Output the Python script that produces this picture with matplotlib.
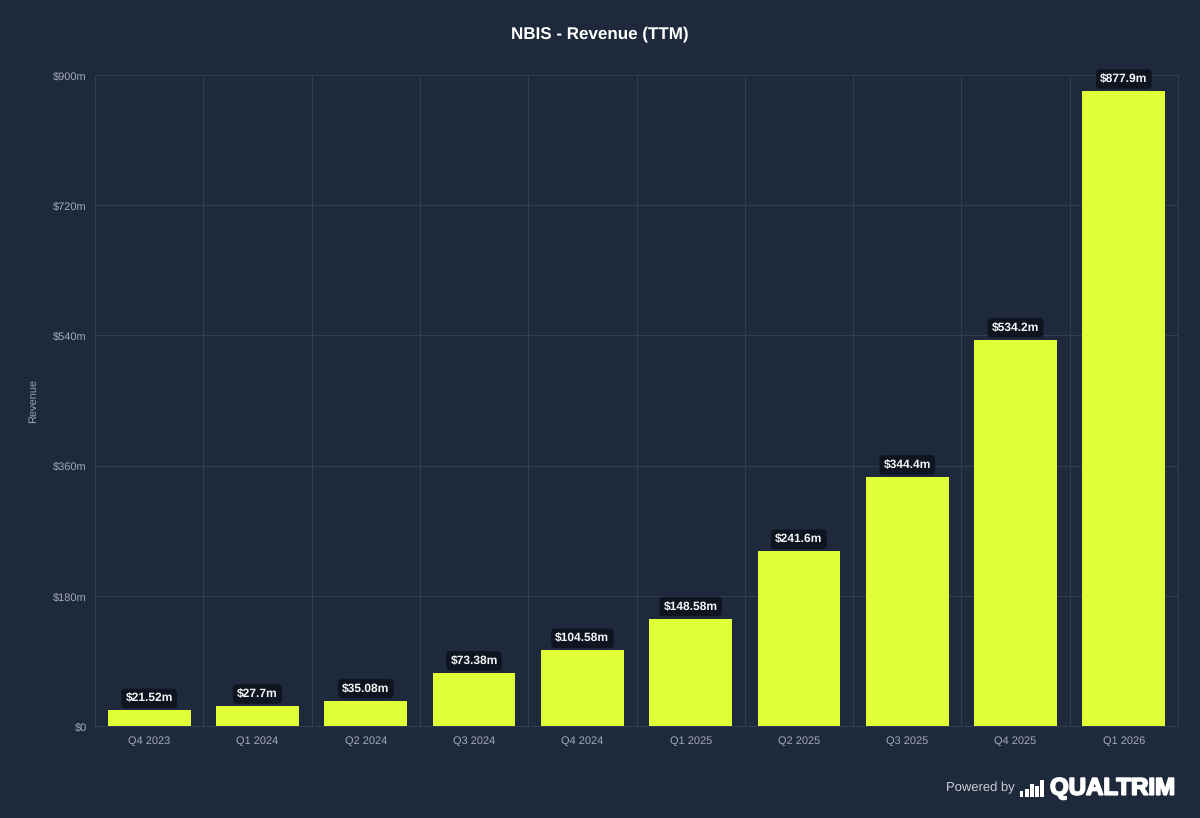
import matplotlib
matplotlib.use('Agg')
import matplotlib.pyplot as plt
import matplotlib.patheffects as pe
from matplotlib.patches import Rectangle

plt.rcParams['font.family'] = ['Liberation Sans', 'DejaVu Sans']
plt.rcParams['text.hinting'] = 'no_hinting'
plt.rcParams['text.hinting_factor'] = 1

quarters = ['Q4 2023', 'Q1 2024', 'Q2 2024', 'Q3 2024', 'Q4 2024',
            'Q1 2025', 'Q2 2025', 'Q3 2025', 'Q4 2025', 'Q1 2026']
revenue = [21.52, 27.7, 35.08, 73.38, 104.58, 148.58, 241.6, 344.4, 534.2, 877.9]
bar_labels = ['$21.52m', '$27.7m', '$35.08m', '$73.38m', '$104.58m',
              '$148.58m', '$241.6m', '$344.4m', '$534.2m', '$877.9m']
y_ticks = [0, 180, 360, 540, 720, 900]
y_tick_labels = ['$0', '$180m', '$360m', '$540m', '$720m', '$900m']

BG = '#1e2a3c'
GRID = '#333f51'
BAR = '#e0ff37'
W, H = 1200, 818

fig = plt.figure(figsize=(W / 100, H / 100), dpi=100, facecolor=BG)
ax = fig.add_axes([95 / W, 1 - 726 / H, (1178 - 95) / W, (726 - 75) / H], facecolor=BG)

x = range(len(quarters))
ax.bar(x, revenue, width=0.765, color=BAR, zorder=3)
ax.set_xlim(-0.5, len(quarters) - 0.5)
ax.set_ylim(0, 900)

ax.set_yticks(y_ticks)
ax.set_yticklabels(y_tick_labels, va='center_baseline')
ax.set_xticks(list(x))
ax.set_xticklabels(quarters)
ax.set_xticks([i - 0.5 for i in range(len(quarters) + 1)], minor=True)
ax.tick_params(axis='both', which='major', length=0, labelsize=8, labelcolor='#a3abb8')
ax.tick_params(axis='x', which='major', pad=7.5)
ax.tick_params(axis='y', which='major', pad=6)
ax.tick_params(axis='x', which='minor', length=0)
ax.grid(True, axis='y', color=GRID, lw=0.7, zorder=0)
ax.grid(True, axis='x', which='minor', color=GRID, lw=0.7, zorder=0)
for side in ax.spines.values():
    side.set_color(GRID)
    side.set_linewidth(0.7)

for i, (val, lab) in enumerate(zip(revenue, bar_labels)):
    ax.annotate(lab, (i, val), xytext=(0, 4.6), textcoords='offset points',
                ha='center', va='bottom', fontsize=8.4, fontweight='bold',
                color='#f4f5f6', zorder=5, clip_on=False,
                bbox=dict(boxstyle='round,pad=0.36,rounding_size=0.35', fc='#0e1420', ec='none'))

fig.text(600 / W, 1 - 34.5 / H, 'NBIS - Revenue (TTM)', color='white', fontsize=12.6,
         fontweight='bold', ha='center', va='center')
fig.text(33 / W, 1 - 401 / H, 'Revenue', color='#99a2b0', fontsize=8,
         rotation=90, ha='center', va='center')

# footer logo
fig.text(946 / W, 1 - 788 / H, 'Powered by', color='#c9cdd4', fontsize=9.0, ha='left', va='center')
for bx, top in [(1019.5, 791), (1024.8, 789.3), (1030, 784.3), (1035.2, 785.7), (1040.4, 780.3)]:
    fig.add_artist(Rectangle((bx / W, 1 - 796.7 / H), 3.9 / W, (796.7 - top) / H,
                             transform=fig.transFigure, fc='white', ec='none'))
fig.text(1050 / W, 1 - 788.5 / H, 'QUALTRIM', color='white', fontsize=17.3, fontweight='bold',
         ha='left', va='center',
         path_effects=[pe.withStroke(linewidth=1.3, foreground='white')])

fig.savefig('out.png', dpi=100, facecolor=BG)
